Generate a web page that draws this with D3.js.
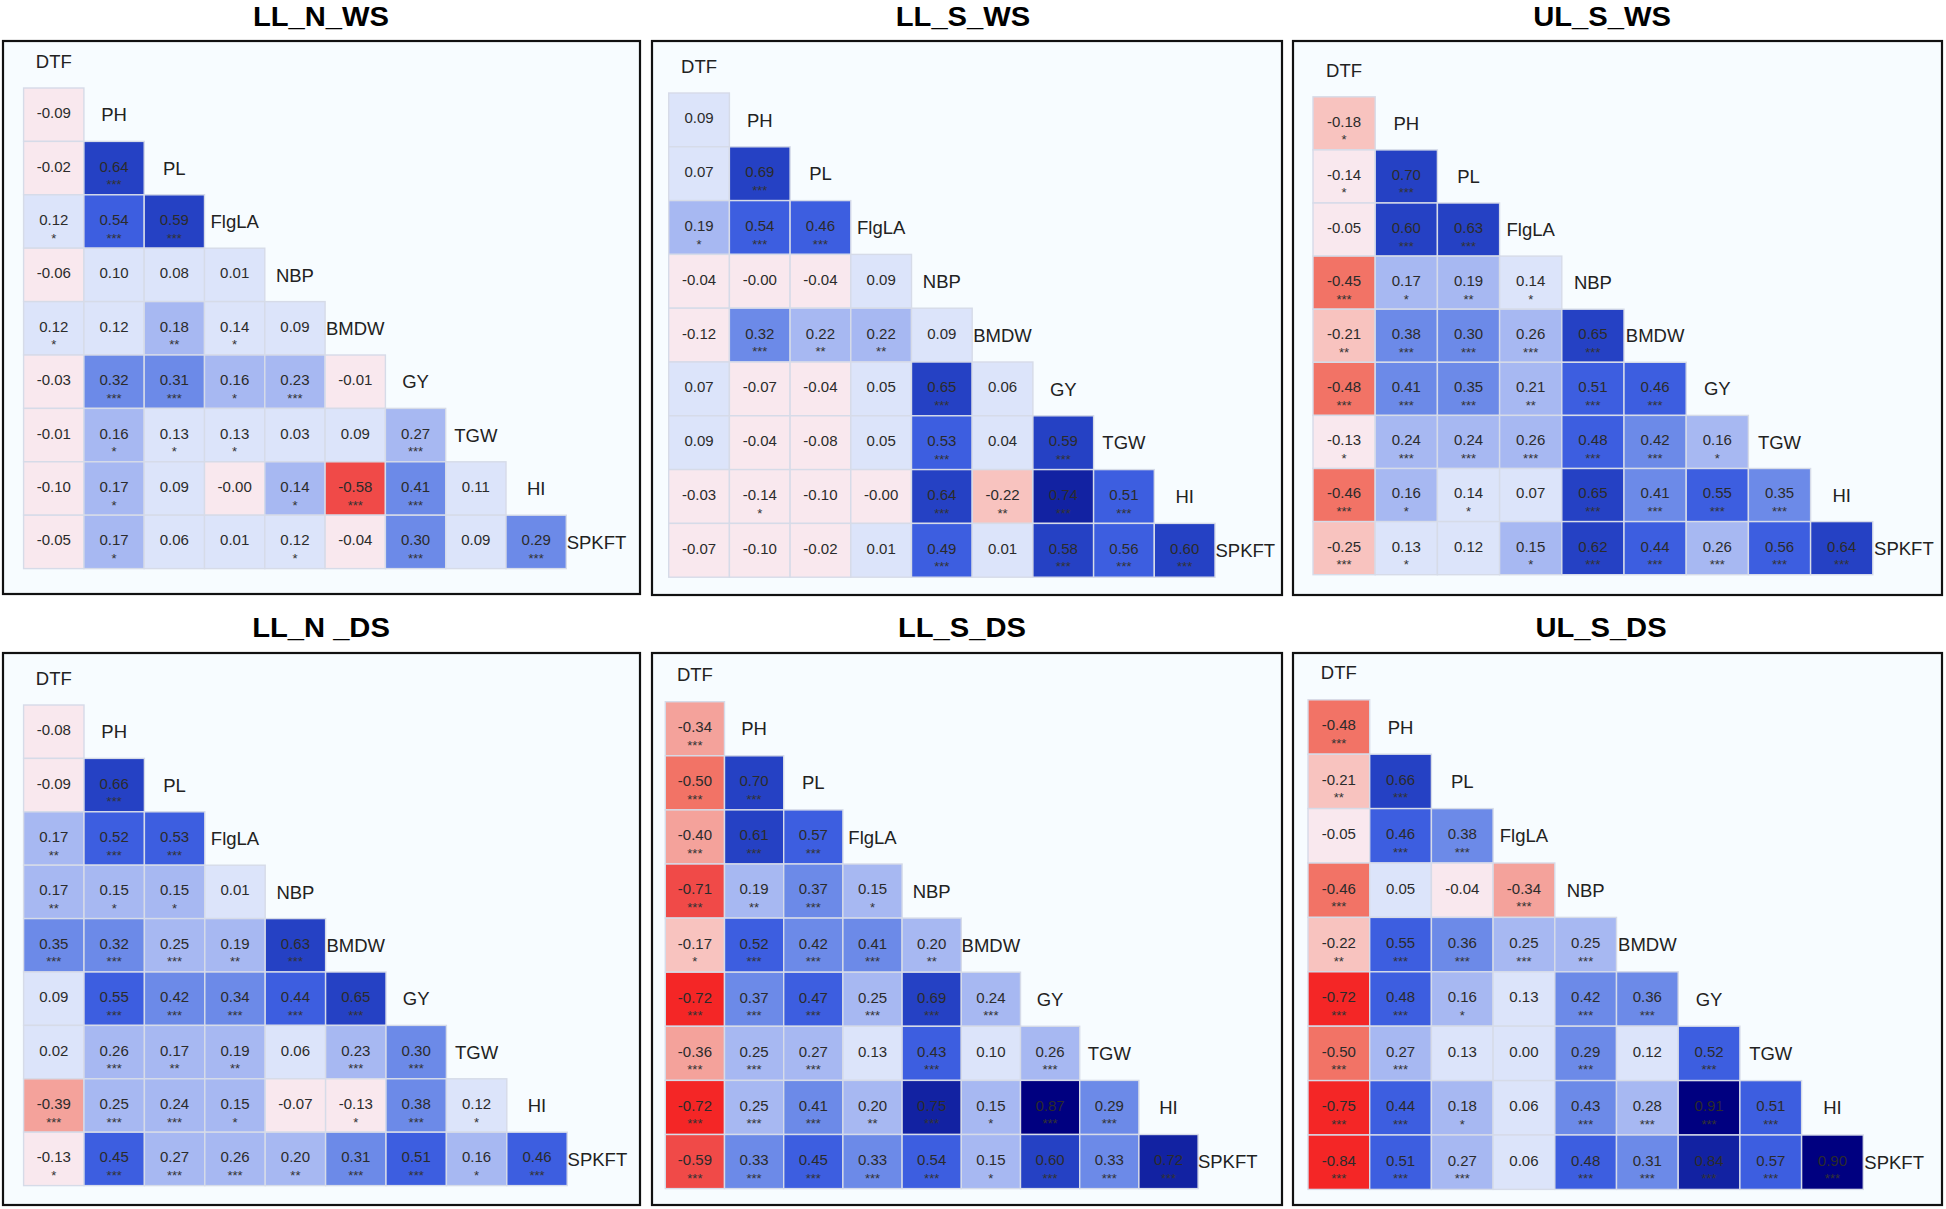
<!DOCTYPE html>
<html>
<head>
<meta charset="utf-8">
<script src="https://cdn.jsdelivr.net/npm/d3@7"></script>
<style>
  body { margin: 0; background: #fff; }
  svg { display: block; }
  text { font-family: "Liberation Sans", Arial, sans-serif; }
</style>
</head>
<body>
<svg id="chart" width="1946" height="1209"></svg>
<script>
// traits, in the order of the triangle
const traits = ["DTF", "PH", "PL", "FlgLA", "NBP", "BMDW", "GY", "TGW", "HI", "SPKFT"];
const titles = ["LL_N_WS", "LL_S_WS", "UL_S_WS", "LL_N _DS", "LL_S_DS", "UL_S_DS"];

// lower triangle, one row per trait from PH to SPKFT
// (values shown as 0.14 / -0.00 are kept on the side of the bin their colour shows)
const llnWs = [
  [-0.09],
  [-0.02, 0.64],
  [0.12, 0.54, 0.59],
  [-0.06, 0.10, 0.08, 0.01],
  [0.12, 0.12, 0.18, 0.138, 0.09],
  [-0.03, 0.32, 0.31, 0.16, 0.23, -0.01],
  [-0.01, 0.16, 0.13, 0.13, 0.03, 0.09, 0.27],
  [-0.10, 0.17, 0.09, -0.004, 0.144, -0.58, 0.41, 0.11],
  [-0.05, 0.17, 0.06, 0.01, 0.12, -0.04, 0.30, 0.09, 0.29]
];
const llnWsStars = [
  [0], [0, 3], [1, 3, 3], [0, 0, 0, 0], [1, 0, 2, 1, 0], [0, 3, 3, 1, 3, 0],
  [0, 1, 1, 1, 0, 0, 3], [0, 1, 0, 0, 1, 3, 3, 0], [0, 1, 0, 0, 1, 0, 3, 0, 3]
];

const llsWs = [
  [0.09],
  [0.07, 0.69],
  [0.19, 0.54, 0.46],
  [-0.04, -0.004, -0.04, 0.09],
  [-0.12, 0.32, 0.22, 0.22, 0.09],
  [0.07, -0.07, -0.04, 0.05, 0.65, 0.06],
  [0.09, -0.04, -0.08, 0.05, 0.53, 0.04, 0.59],
  [-0.03, -0.138, -0.10, -0.004, 0.64, -0.22, 0.74, 0.51],
  [-0.07, -0.10, -0.02, 0.01, 0.49, 0.01, 0.58, 0.56, 0.60]
];
const llsWsStars = [
  [0], [0, 3], [1, 3, 3], [0, 0, 0, 0], [0, 3, 2, 2, 0], [0, 0, 0, 0, 3, 0],
  [0, 0, 0, 0, 3, 0, 3], [0, 1, 0, 0, 3, 2, 3, 3], [0, 0, 0, 0, 3, 0, 3, 3, 3]
];

const ulsWs = [
  [-0.18],
  [-0.138, 0.70],
  [-0.05, 0.60, 0.63],
  [-0.45, 0.17, 0.19, 0.138],
  [-0.21, 0.38, 0.30, 0.26, 0.65],
  [-0.48, 0.41, 0.35, 0.21, 0.51, 0.46],
  [-0.13, 0.24, 0.24, 0.26, 0.48, 0.42, 0.16],
  [-0.46, 0.16, 0.138, 0.07, 0.65, 0.41, 0.55, 0.35],
  [-0.25, 0.13, 0.12, 0.15, 0.62, 0.44, 0.26, 0.56, 0.64]
];
const ulsWsStars = [
  [1], [1, 3], [0, 3, 3], [3, 1, 2, 1], [2, 3, 3, 3, 3], [3, 3, 3, 2, 3, 3],
  [1, 3, 3, 3, 3, 3, 1], [3, 1, 1, 0, 3, 3, 3, 3], [3, 1, 0, 1, 3, 3, 3, 3, 3]
];

const llnDs = [
  [-0.08],
  [-0.09, 0.66],
  [0.17, 0.52, 0.53],
  [0.17, 0.15, 0.15, 0.01],
  [0.35, 0.32, 0.25, 0.19, 0.63],
  [0.09, 0.55, 0.42, 0.34, 0.44, 0.65],
  [0.02, 0.26, 0.17, 0.19, 0.06, 0.23, 0.30],
  [-0.39, 0.25, 0.24, 0.15, -0.07, -0.13, 0.38, 0.12],
  [-0.13, 0.45, 0.27, 0.26, 0.20, 0.31, 0.51, 0.16, 0.46]
];
const llnDsStars = [
  [0], [0, 3], [2, 3, 3], [2, 1, 1, 0], [3, 3, 3, 2, 3], [0, 3, 3, 3, 3, 3],
  [0, 3, 2, 2, 0, 3, 3], [3, 3, 3, 1, 0, 1, 3, 1], [1, 3, 3, 3, 2, 3, 3, 1, 3]
];

const llsDs = [
  [-0.34],
  [-0.50, 0.70],
  [-0.40, 0.61, 0.568],
  [-0.709, 0.19, 0.37, 0.15],
  [-0.17, 0.52, 0.42, 0.41, 0.20],
  [-0.72, 0.37, 0.47, 0.25, 0.69, 0.24],
  [-0.36, 0.25, 0.27, 0.13, 0.43, 0.10, 0.26],
  [-0.72, 0.25, 0.41, 0.20, 0.75, 0.15, 0.87, 0.29],
  [-0.59, 0.33, 0.45, 0.33, 0.54, 0.15, 0.60, 0.33, 0.72]
];
const llsDsStars = [
  [3], [3, 3], [3, 3, 3], [3, 2, 3, 1], [1, 3, 3, 3, 2], [3, 3, 3, 3, 3, 3],
  [3, 3, 3, 0, 3, 0, 3], [3, 3, 3, 2, 3, 1, 3, 3], [3, 3, 3, 3, 3, 1, 3, 3, 3]
];

const ulsDs = [
  [-0.48],
  [-0.21, 0.66],
  [-0.05, 0.46, 0.38],
  [-0.46, 0.05, -0.04, -0.34],
  [-0.22, 0.55, 0.36, 0.25, 0.25],
  [-0.72, 0.48, 0.16, 0.13, 0.42, 0.36],
  [-0.50, 0.27, 0.13, 0.00, 0.29, 0.12, 0.52],
  [-0.75, 0.44, 0.18, 0.06, 0.428, 0.28, 0.91, 0.51],
  [-0.84, 0.51, 0.27, 0.06, 0.48, 0.31, 0.84, 0.568, 0.90]
];
const ulsDsStars = [
  [3], [2, 3], [0, 3, 3], [3, 0, 0, 3], [2, 3, 3, 3, 3], [3, 3, 1, 0, 3, 3],
  [3, 3, 0, 0, 3, 0, 3], [3, 3, 1, 0, 3, 3, 3, 3], [3, 3, 3, 0, 3, 3, 3, 3, 3]
];

// 14 colour steps, -1 .. 1
const palette = [
  "#d40000", "#f42626", "#f04a48", "#f27366", "#f4a29b", "#f8c3bf", "#f9e8ee",
  "#dce4fa", "#a7b8f2", "#6c8ae8", "#3d5ee0", "#2541c4", "#1222a2", "#000080"
];
const color = d3.scaleThreshold()
  .domain(d3.range(-6, 7).map(k => k / 7))
  .range(palette);

const panels = [
  {title: titles[0], values: llnWs, stars: llnWsStars, box: [3, 41, 640, 594],   grid: [23.6, 88, 60.3, 53.4],   tx: 321, ty: 26},
  {title: titles[1], values: llsWs, stars: llsWsStars, box: [652, 41, 1282, 595], grid: [668.7, 93, 60.7, 53.8],  tx: 963, ty: 26},
  {title: titles[2], values: ulsWs, stars: ulsWsStars, box: [1293, 41, 1942, 595], grid: [1313, 96.8, 62.2, 53.1], tx: 1602, ty: 26},
  {title: titles[3], values: llnDs, stars: llnDsStars, box: [3, 653, 640, 1205],  grid: [23.6, 705, 60.4, 53.4],  tx: 321, ty: 637},
  {title: titles[4], values: llsDs, stars: llsDsStars, box: [652, 653, 1282, 1205], grid: [665.3, 701.7, 59.2, 54.1], tx: 962, ty: 637},
  {title: titles[5], values: ulsDs, stars: ulsDsStars, box: [1293, 653, 1942, 1205], grid: [1308, 699.8, 61.7, 54.4], tx: 1601, ty: 637}
];

const svg = d3.select('#chart');

panels.forEach(p => {
  const g = svg.append('g');
  const [bx0, by0, bx1, by1] = p.box;
  const [gx, gy, cw, ch] = p.grid;

  g.append('text')
    .attr('transform', `translate(${p.tx},${p.ty}) scale(1.08,1)`)
    .attr('text-anchor', 'middle')
    .style('font-weight', 700)
    .style('font-size', '27px')
    .attr('fill', '#000')
    .text(p.title);

  g.append('rect')
    .attr('x', bx0).attr('y', by0)
    .attr('width', bx1 - bx0).attr('height', by1 - by0)
    .attr('fill', '#f7fcff')
    .attr('stroke', '#111')
    .attr('stroke-width', 2.2);

  const x = d3.scaleBand().domain(traits).range([gx, gx + cw * traits.length]);
  const y = d3.scaleBand().domain(traits).range([gy - ch, gy + ch * (traits.length - 1)]);

  const cells = [];
  p.values.forEach((row, i) => row.forEach((v, j) => {
    cells.push({row: traits[i + 1], col: traits[j], v: v, s: p.stars[i][j]});
  }));

  const cell = g.selectAll('g.cell').data(cells).join('g').attr('class', 'cell');

  cell.append('rect')
    .attr('x', d => x(d.col)).attr('y', d => y(d.row))
    .attr('width', x.bandwidth()).attr('height', y.bandwidth())
    .attr('fill', d => color(d.v))
    .attr('stroke', '#d6dbe8')
    .attr('stroke-width', 1.4);

  cell.append('text')
    .attr('x', d => x(d.col) + x.bandwidth() / 2)
    .attr('y', d => y(d.row) + y.bandwidth() / 2 + 3.4)
    .attr('text-anchor', 'middle')
    .style('font-size', '15px')
    .attr('fill', '#2b2b2b')
    .text(d => d.v.toFixed(2));

  cell.filter(d => d.s > 0).append('text')
    .attr('x', d => x(d.col) + x.bandwidth() / 2)
    .attr('y', d => y(d.row) + y.bandwidth() / 2 + 21)
    .attr('text-anchor', 'middle')
    .style('font-size', '13px')
    .attr('fill', '#333')
    .text(d => '*'.repeat(d.s));

  // trait names on the diagonal
  g.selectAll('text.lab').data(traits).join('text')
    .attr('class', 'lab')
    .attr('x', d => x(d) + x.bandwidth() / 2)
    .attr('y', d => y(d) + y.bandwidth() / 2 + 6.6)
    .attr('text-anchor', 'middle')
    .style('font-size', '18.5px')
    .attr('fill', '#222')
    .text(d => d);
});
</script>
</body>
</html>
